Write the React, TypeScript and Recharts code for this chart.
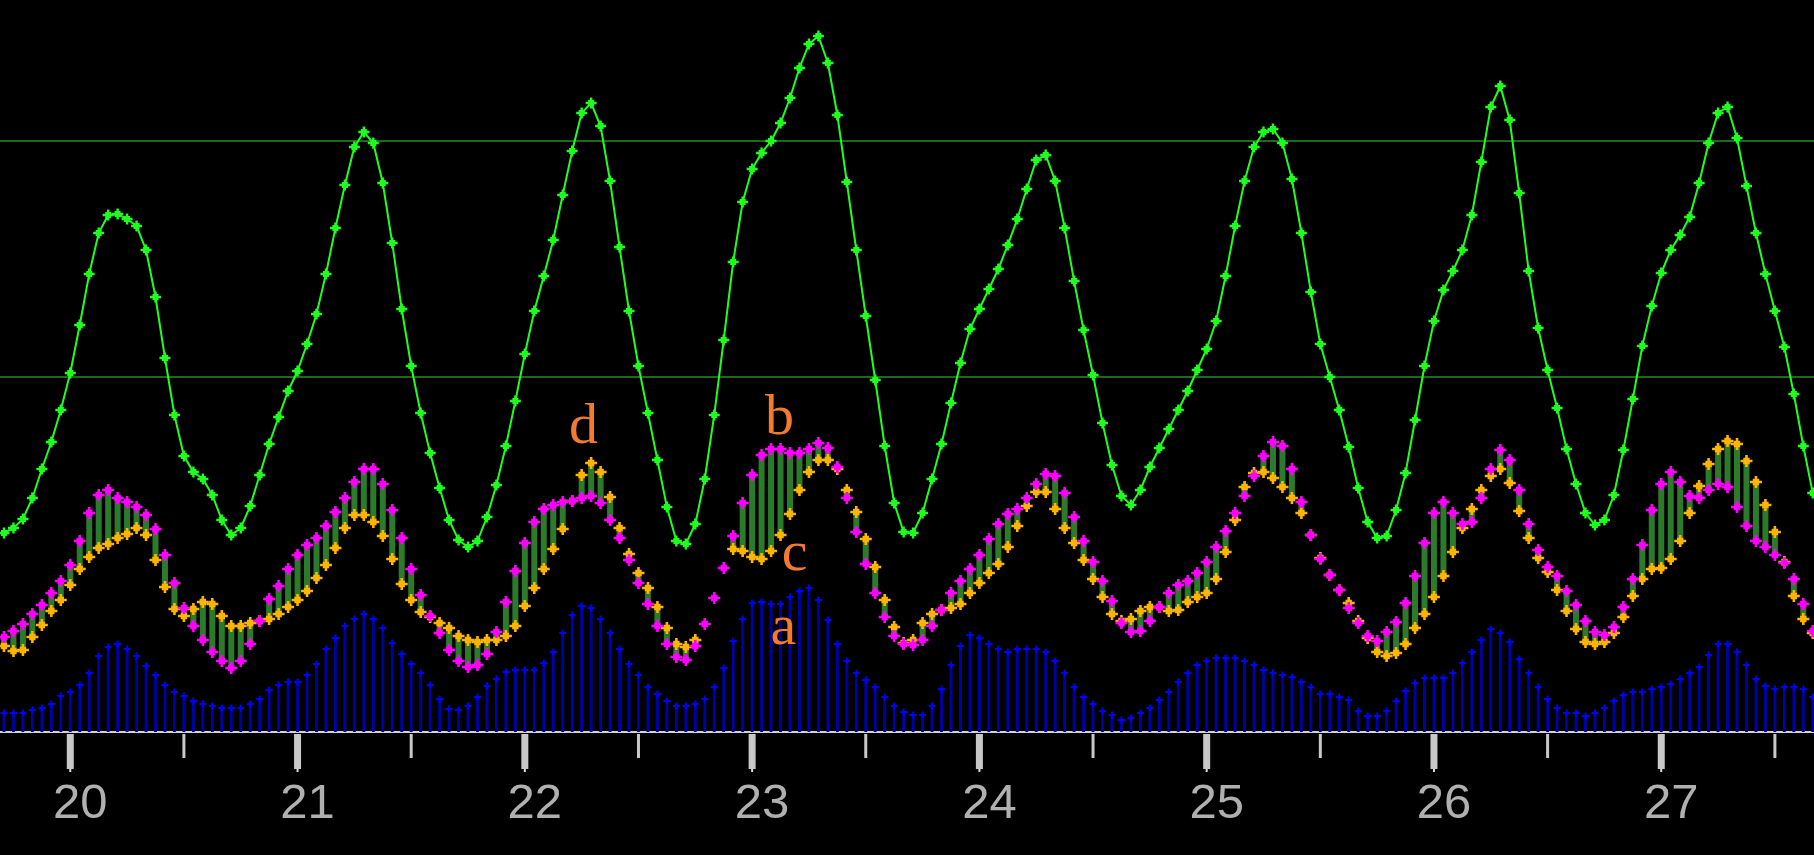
import React from 'react';
import { ComposedChart, Line, Bar, XAxis, YAxis, ReferenceLine, ErrorBar, Scatter } from 'recharts';

// hourly samples, first sample is 7 hours before day 20 00:00
const START_HOUR = -7;

const greenSeries = [
  199, 204, 213, 234, 263, 290, 322,
  359, 407, 458, 499, 517, 518, 513, 506, 482, 435, 374, 317,
  276, 260, 253, 237, 212, 197, 204, 226, 257, 288, 315, 341,
  361, 388, 418, 458, 504, 547, 585, 600, 589, 549, 489, 423,
  366, 319, 279, 244, 212, 192, 185, 191, 215, 247, 286, 331,
  378, 421, 456, 492, 537, 581, 619, 629, 606, 551, 485, 421,
  366, 319, 272, 225, 191, 188, 208, 253, 317, 392, 470, 530,
  563, 579, 591, 609, 634, 664, 688, 696, 669, 617, 550, 482,
  416, 352, 286, 229, 200, 199, 219, 253, 288, 329, 369, 403,
  423, 443, 463, 487, 513, 543, 572, 577, 551, 504, 451, 402,
  357, 309, 267, 236, 227, 242, 265, 284, 303, 322, 341, 362,
  383, 411, 456, 506, 551, 585, 600, 603, 589, 553, 499, 440,
  388, 355, 322, 285, 244, 210, 194, 196, 222, 259, 312, 366,
  411, 442, 461, 482, 517, 570, 625, 646, 612, 539, 461, 404,
  362, 324, 283, 248, 219, 207, 212, 237, 282, 333, 386, 426,
  459, 482, 497, 515, 549, 589, 619, 625, 594, 546, 499, 458,
  421, 385, 338, 286, 239,
];

const magentaSeries = [
  95, 101, 108, 118, 127, 139, 151,
  167, 191, 219, 237, 242, 234, 230, 225, 217, 203, 177, 149,
  124, 106, 92, 80, 71, 64, 71, 88, 111, 133, 146, 163,
  177, 187, 194, 206, 220, 234, 250, 263, 263, 248, 222, 194,
  163, 137, 116, 99, 82, 71, 65, 67, 78, 100, 130, 161,
  189, 210, 223, 227, 230, 231, 234, 236, 229, 212, 194, 172,
  149, 128, 106, 88, 75, 72, 86, 108, 134, 164, 196, 229,
  257, 277, 283, 283, 279, 279, 283, 289, 284, 265, 234, 200,
  168, 139, 115, 96, 88, 87, 92, 106, 122, 139, 151, 163,
  177, 193, 208, 218, 223, 234, 248, 258, 256, 239, 215, 191,
  170, 151, 131, 109, 100, 101, 111, 125, 139, 147, 151, 159,
  170, 185, 201, 219, 236, 256, 276, 290, 286, 263, 230, 197,
  173, 157, 142, 124, 109, 96, 91, 100, 110, 129, 156, 189,
  219, 230, 219, 208, 210, 234, 263, 282, 272, 242, 208, 182,
  165, 156, 141, 127, 111, 100, 97, 105, 125, 153, 187, 222,
  248, 260, 250, 236, 234, 242, 248, 245, 225, 206, 191, 185,
  177, 169, 153, 128, 101,
];

const orangeSeries: (number | null)[] = [
  86, 81, 82, 95, 107, 121, 132,
  147, 163, 175, 184, 188, 194, 198, 204, 197, 172, 145, 123,
  116, 123, 130, 128, 116, 106, 106, 109, 111, 113, 118, 125,
  132, 141, 154, 167, 184, 204, 217, 217, 210, 196, 173, 148,
  132, 120, 115, 109, 104, 96, 92, 90, 92, 92, 96, 106,
  126, 144, 163, 183, 203, 231, 257, 269, 260, 235, 204, 178,
  159, 144, 125, 104, 88, 85, 92, null, null, null, 183, 181,
  175, 173, 181, 197, 218, 242, 260, 272, 272, 263, 242, 220,
  193, 165, 132, 105, 89, 92, 109, 118, 122, 124, 128, 139,
  149, 159, 168, 185, 206, 226, 240, 240, 223, 204, 189, 172,
  153, 135, 118, 111, 113, 121, 125, 125, 121, 122, 130, 135,
  139, 153, 180, 212, 245, 259, 260, 254, 245, 234, 219, 197,
  174, 157, 142, 129, 111, 94, 80, 76, 79, 88, 104, 118,
  135, 156, 180, 204, 223, 242, 256, 263, 249, 221, 194, 174,
  160, 142, 121, 103, 90, 88, 90, 99, 115, 136, 153, 163,
  164, 173, 191, 219, 246, 268, 283, 291, 288, 271, 250, 227,
  200, 170, 136, 113, 99,
];

const blueSeries = [
  19, 19, 19, 22, 24, 28, 36,
  40, 47, 59, 76, 85, 88, 83, 76, 66, 57, 47, 40,
  36, 31, 28, 26, 24, 24, 24, 28, 33, 42, 47, 50,
  50, 57, 68, 83, 94, 106, 113, 118, 113, 104, 89, 78,
  68, 59, 47, 33, 23, 22, 26, 35, 46, 53, 60, 62,
  62, 62, 69, 80, 99, 117, 126, 124, 113, 99, 83, 68,
  57, 45, 38, 31, 26, 26, 28, 33, 45, 64, 91, 113,
  129, 130, 128, 128, 135, 141, 144, 132, 112, 88, 71, 59,
  52, 45, 35, 26, 20, 17, 17, 26, 43, 67, 86, 97,
  94, 88, 83, 80, 83, 83, 83, 80, 71, 59, 45, 35,
  28, 21, 17, 12, 14, 19, 24, 32, 40, 50, 59, 67,
  71, 74, 74, 74, 71, 67, 62, 59, 57, 55, 50, 45,
  38, 38, 35, 32, 21, 16, 16, 21, 31, 41, 49, 54,
  54, 54, 59, 69, 80, 92, 103, 99, 90, 73, 59, 45,
  33, 24, 19, 19, 16, 19, 24, 31, 37, 40, 40, 43,
  45, 48, 53, 59, 65, 77, 88, 88, 80, 67, 53, 46,
  43, 45, 45, 43, 35,
];

const axisTicks = [0, 12, 24, 36, 48, 60, 72, 84, 96, 108, 120, 132, 144, 156, 168, 180];
const dayLabels = ['20', '21', '22', '23', '24', '25', '26', '27'];
const thresholdLevels = [355, 591];
const annotations = [
  { h: 54.2, v: 289, t: 'd' },
  { h: 74.9, v: 298, t: 'b' },
  { h: 76.5, v: 162, t: 'c' },
  { h: 75.3, v: 88, t: 'a' },
];

const rows = greenSeries.map((g, i) => {
  const m = magentaSeries[i];
  const o = orangeSeries[i];
  return {
    h: START_HOUR + i,
    green: g,
    mag: m,
    ora: o,
    blue: blueSeries[i],
    err: o == null ? [0, 0] : o < m ? [m - o, 0] : [0, o - m],
  };
});

const starPath = (cx: number, cy: number, arm: number, t: number, c: number) =>
  `M${cx - arm},${cy - t}h${2 * arm}v${2 * t}h${-2 * arm}z` +
  `M${cx - t},${cy - arm}h${2 * t}v${2 * arm}h${-2 * t}z` +
  `M${cx - c},${cy - c}h${2 * c}v${2 * c}h${-2 * c}z`;

const makeDot = (color: string, arm: number, t: number, c: number) => (p: any) => {
  const k = `dot-${p.index}`;
  if (p.value == null || p.cy == null || Number.isNaN(p.cy) || p.cx == null) return <g key={k} />;
  return <path key={k} d={starPath(p.cx, p.cy, arm, t, c)} fill={color} />;
};

const Stem = (props: any) => {
  const { x, y, width, height } = props;
  if (x == null || y == null) return <g />;
  const cx = x + width / 2;
  return (
    <g>
      <rect x={cx - 1.4} y={y} width={2.8} height={Math.max(0, height) + 2.5} fill="#0000aa" />
      <path d={`M${cx - 3.5},${y - 1}h7v2h-7z M${cx - 1},${y - 3.5}h2v7h-2z`} fill="#0000ff" />
    </g>
  );
};

const AxisTick = (props: any) => {
  const { x, y, payload } = props;
  const v = payload.value;
  if (v % 24 === 0) {
    return (
      <g>
        <rect x={x - 3.5} y={y + 2} width={7} height={35} fill="#c8c8c8" />
        <rect x={x - 1} y={y + 37} width={2} height={3} fill="#dcdcdc" />
        <text
          x={x + 10}
          y={y + 86}
          textAnchor="middle"
          fontFamily="'Liberation Sans', Arial, sans-serif"
          fontSize={49}
          fill="#b0b0b0"
        >
          {dayLabels[v / 24]}
        </text>
      </g>
    );
  }
  return <rect x={x - 1.5} y={y + 2} width={3} height={24} fill="#c8c8c8" />;
};

const Annotation = (p: any) => (
  <text
    x={p.cx}
    y={p.cy}
    textAnchor="middle"
    fontFamily="'Liberation Serif', 'Times New Roman', serif"
    fontSize={58}
    fill="#f47a30"
  >
    {p.payload.t}
  </text>
);

export default function App() {
  return (
    <div style={{ position: 'absolute', left: 0, top: 0, width: 1814, height: 855, background: '#000' }}>
      <ComposedChart width={1814} height={855} data={rows} margin={{ top: 0, right: 0, bottom: 0, left: 0 }}>
        <XAxis
          dataKey="h"
          type="number"
          domain={[-7.42, 184.13]}
          allowDataOverflow
          ticks={axisTicks}
          interval={0}
          height={123}
          tickSize={0}
          tickMargin={0}
          tickLine={false}
          axisLine={{ stroke: '#d2d2d2', strokeWidth: 2 }}
          tick={AxisTick}
          {...({ zIndex: 50 } as any)}
        />
        <YAxis hide domain={[0, 732]} allowDataOverflow />
        {thresholdLevels.map((lv) => (
          <ReferenceLine key={lv} y={lv} stroke="#2a8c2a" strokeWidth={1.5} {...({ zIndex: 40 } as any)} />
        ))}
        <Bar dataKey="blue" shape={Stem} isAnimationActive={false} />
        <Line dataKey="mag" stroke="none" dot={false} activeDot={false} isAnimationActive={false}>
          <ErrorBar dataKey="err" direction="y" width={0} stroke="#2b7b2b" strokeWidth={6} />
        </Line>
        <Line
          dataKey="ora"
          stroke="none"
          dot={makeDot('#ffb400', 6, 1.3, 3.2)}
          activeDot={false}
          isAnimationActive={false}
        />
        <Line
          dataKey="mag"
          stroke="none"
          dot={makeDot('#ff00ff', 6, 1.3, 3.2)}
          activeDot={false}
          isAnimationActive={false}
        />
        <Line
          dataKey="green"
          type="linear"
          stroke="#1eff1e"
          strokeWidth={2}
          dot={makeDot('#1eff1e', 5.5, 1.2, 3)}
          activeDot={false}
          isAnimationActive={false}
        />
        <Scatter data={annotations} dataKey="v" shape={Annotation} isAnimationActive={false} />
      </ComposedChart>
    </div>
  );
}
